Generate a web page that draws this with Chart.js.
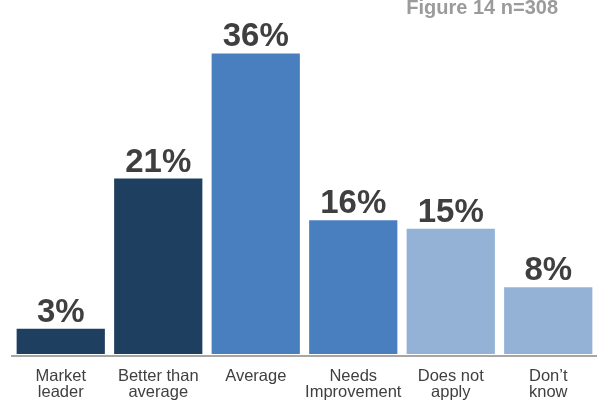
<!DOCTYPE html>
<html>
<head>
<meta charset="utf-8">
<script src="https://cdn.jsdelivr.net/npm/chart.js@4.4.1/dist/chart.umd.min.js"></script>
<style>
  html, body { margin: 0; padding: 0; background: #fff; }
  #wrap { width: 597px; height: 409px; position: relative; }
</style>
</head>
<body>
<div id="wrap"><canvas id="ratingChart"></canvas></div>
<script>
// survey answers, one bar per answer
const categories = [
  ['Market', 'leader'],
  ['Better than', 'average'],
  ['Average'],
  ['Needs', 'Improvement'],
  ['Does not', 'apply'],
  ['Don\u2019t', 'know']
];
const values = [3, 21, 36, 16, 15, 8];
const figureNote = 'Figure 14 n=308';

const barColors = ['#1f3f60', '#1f3f60', '#4a7fbf', '#4a7fbf', '#94b2d6', '#94b2d6'];
const fontFamily = '"Liberation Sans", Arial, Helvetica, sans-serif';

// percentage above each bar + the figure note in the corner
const barLabels = {
  id: 'barLabels',
  afterDatasetsDraw(chart) {
    const ctx = chart.ctx;
    const meta = chart.getDatasetMeta(0);
    ctx.save();
    ctx.fillStyle = '#3f3f3f';
    ctx.font = 'bold 33px ' + fontFamily;
    ctx.textAlign = 'center';
    ctx.textBaseline = 'alphabetic';
    meta.data.forEach((bar, i) => {
      ctx.fillText(values[i] + '%', bar.x, bar.y - 7);
    });

    ctx.fillStyle = '#9b9b9b';
    ctx.font = 'bold 20px ' + fontFamily;
    ctx.textAlign = 'right';
    ctx.fillText(figureNote, 558, 14);
    ctx.restore();
  }
};

const ctx = document.getElementById('ratingChart').getContext('2d');
const ratingChart = new Chart(ctx, {
  type: 'bar',
  data: {
    labels: categories,
    datasets: [{
      data: values,
      backgroundColor: barColors,
      borderWidth: 0,
      categoryPercentage: 1,
      barPercentage: 0.905
    }]
  },
  options: {
    responsive: true,
    maintainAspectRatio: false,
    animation: false,
    layout: {
      padding: { left: 12, right: 0, top: 20, bottom: -3 }
    },
    plugins: {
      legend: { display: false },
      tooltip: { enabled: false }
    },
    scales: {
      x: {
        grid: { display: false, drawTicks: false },
        border: { display: true, color: '#a6a6a6', width: 2 },
        ticks: {
          color: '#404040',
          padding: 12,
          maxRotation: 0,
          autoSkip: false,
          font: { family: fontFamily, size: 16.5, lineHeight: '16px' }
        }
      },
      y: {
        display: false,
        min: -0.25,
        max: 40
      }
    }
  },
  plugins: [barLabels]
});
</script>
</body>
</html>
